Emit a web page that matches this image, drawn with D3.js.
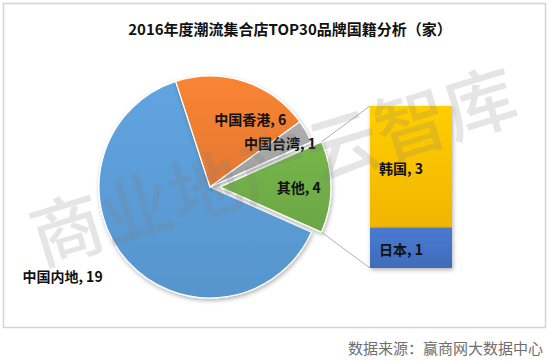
<!DOCTYPE html>
<html>
<head>
<meta charset="utf-8">
<script src="https://d3js.org/d3.v7.min.js"></script>
<style>
  body { margin: 0; background: #fff; font-family: "Noto Sans CJK SC", sans-serif; }
  svg { display: block; }
</style>
</head>
<body>
<script>
// data
const pieNames = ["中国内地", "中国香港", "中国台湾", "其他"];
const pieValues = [19, 6, 1, 4];
const barNames = ["韩国", "日本"];
const barValues = [3, 1];
const titleText = "2016年度潮流集合店TOP30品牌国籍分析（家）";
const sourceText = "数据来源：赢商网大数据中心";
const watermarkText = "商业地产云智库";

const pieColors = ["#5b9bd5", "#ed7d31", "#a5a5a5", "#70ad47"];
const barColors = ["#ffc000", "#4472c4"];

const w = 550, h = 361;
const cx = 210, cy = 187, r = 111;
const explode = 10;

const svg = d3.select("body").append("svg")
  .attr("width", w)
  .attr("height", h);

const defs = svg.append("defs");
const shadow = defs.append("filter").attr("id", "shadow")
  .attr("x", "-20%").attr("y", "-20%").attr("width", "140%").attr("height", "140%");
shadow.append("feDropShadow")
  .attr("dx", 1).attr("dy", 2).attr("stdDeviation", 2)
  .attr("flood-color", "#000").attr("flood-opacity", 0.3);

function grad(id, color, k) {
  const g = defs.append("linearGradient").attr("id", id)
    .attr("x1", 0).attr("y1", 0).attr("x2", 0).attr("y2", 1);
  g.append("stop").attr("offset", "0%").attr("stop-color", d3.color(color).brighter(k));
  g.append("stop").attr("offset", "100%").attr("stop-color", d3.color(color).darker(k * 0.8));
}
pieColors.forEach((c, i) => grad("pg" + i, c, 0.15));
barColors.forEach((c, i) => grad("bg" + i, c, 0.2));

// frame
svg.append("rect")
  .attr("x", 3.5).attr("y", 3.5)
  .attr("width", 542).attr("height", 324)
  .attr("fill", "#fff")
  .attr("stroke", "#d4d4d4")
  .attr("stroke-width", 1.5);

// title
svg.append("text")
  .attr("x", 290).attr("y", 28)
  .attr("text-anchor", "middle")
  .attr("dominant-baseline", "central")
  .attr("font-size", 15)
  .attr("font-weight", "bold")
  .attr("fill", "#111")
  .text(titleText);

// pie
const pie = d3.pie().sort(null)
  .startAngle(114 * Math.PI / 180)
  .endAngle(474 * Math.PI / 180);
const arcs = pie(pieValues);
const arc = d3.arc().innerRadius(0).outerRadius(r);

function offsetOf(d, i) {
  if (i !== pieNames.length - 1) return [0, 0];
  const a = (d.startAngle + d.endAngle) / 2;
  return [Math.sin(a) * explode, -Math.cos(a) * explode];
}

const pieG = svg.append("g")
  .attr("transform", `translate(${cx},${cy})`);

pieG.selectAll("path.slice")
  .data(arcs)
  .enter().append("path")
  .attr("class", "slice")
  .attr("d", arc)
  .attr("transform", (d, i) => `translate(${offsetOf(d, i)})`)
  .attr("fill", (d, i) => `url(#pg${i})`)
  .attr("stroke", "#fff")
  .attr("stroke-width", 1.2)
  .attr("filter", "url(#shadow)");

// bar of "其他"
const barX = 370, barW = 82;
const y = d3.scaleLinear()
  .domain([0, d3.sum(barValues)])
  .range([268, 106]);
const stack = [];
let acc = 0;
for (let i = barValues.length - 1; i >= 0; i--) {
  stack[i] = { name: barNames[i], value: barValues[i], y0: acc, y1: acc + barValues[i] };
  acc += barValues[i];
}

// connector lines from the exploded slice to the bar
const other = arcs[arcs.length - 1];
const off = offsetOf(other, arcs.length - 1);
const pTop = [cx + off[0] + Math.sin(other.startAngle) * r, cy + off[1] - Math.cos(other.startAngle) * r];
const pBot = [cx + off[0] + Math.sin(other.endAngle) * r, cy + off[1] - Math.cos(other.endAngle) * r];
svg.append("line")
  .attr("x1", pTop[0]).attr("y1", pTop[1])
  .attr("x2", barX).attr("y2", y(d3.sum(barValues)))
  .attr("stroke", "#b0b0b0").attr("stroke-width", 1);
svg.append("line")
  .attr("x1", pBot[0]).attr("y1", pBot[1])
  .attr("x2", barX).attr("y2", y(0))
  .attr("stroke", "#b0b0b0").attr("stroke-width", 1);

svg.selectAll("rect.bar")
  .data(stack)
  .enter().append("rect")
  .attr("class", "bar")
  .attr("x", barX)
  .attr("width", barW)
  .attr("y", d => y(d.y1))
  .attr("height", d => y(d.y0) - y(d.y1))
  .attr("fill", (d, i) => `url(#bg${i})`)
  .attr("filter", "url(#shadow)");

svg.selectAll("text.barlab")
  .data(stack)
  .enter().append("text")
  .attr("class", "barlab")
  .attr("x", barX + 9)
  .attr("y", d => (y(d.y0) + y(d.y1)) / 2 + 1)
  .attr("dominant-baseline", "central")
  .attr("font-size", 14)
  .attr("font-weight", "bold")
  .attr("fill", "#111")
  .text(d => d.name + ", " + d.value);

// pie labels
const labelArc = [1.4, 0.71, 0.75, 0.71];
const nudge = [[-32, -15], [16, 7], [-2, -2], [0, 0]];
pieG.selectAll("text.pielab")
  .data(arcs)
  .enter().append("text")
  .attr("class", "pielab")
  .attr("transform", (d, i) => {
    const a = (d.startAngle + d.endAngle) / 2;
    const rr = r * labelArc[i];
    const o = offsetOf(d, i);
    return `translate(${Math.sin(a) * rr + o[0] + nudge[i][0]},${-Math.cos(a) * rr + o[1] + nudge[i][1]})`;
  })
  .attr("text-anchor", "middle")
  .attr("dominant-baseline", "central")
  .attr("font-size", 14)
  .attr("font-weight", "bold")
  .attr("fill", "#111")
  .text((d, i) => pieNames[i] + ", " + d.value);

// watermark
svg.append("text")
  .attr("transform", "translate(272,162) rotate(-17)")
  .attr("text-anchor", "middle")
  .attr("dominant-baseline", "central")
  .attr("font-size", 72)
  .attr("font-weight", 500)
  .attr("fill", "#7f7f7f")
  .attr("fill-opacity", 0.2)
  .text(watermarkText);

// source
svg.append("text")
  .attr("x", 543).attr("y", 347)
  .attr("text-anchor", "end")
  .attr("dominant-baseline", "central")
  .attr("font-size", 15)
  .attr("fill", "#6f6f6f")
  .text(sourceText);
</script>
</body>
</html>
